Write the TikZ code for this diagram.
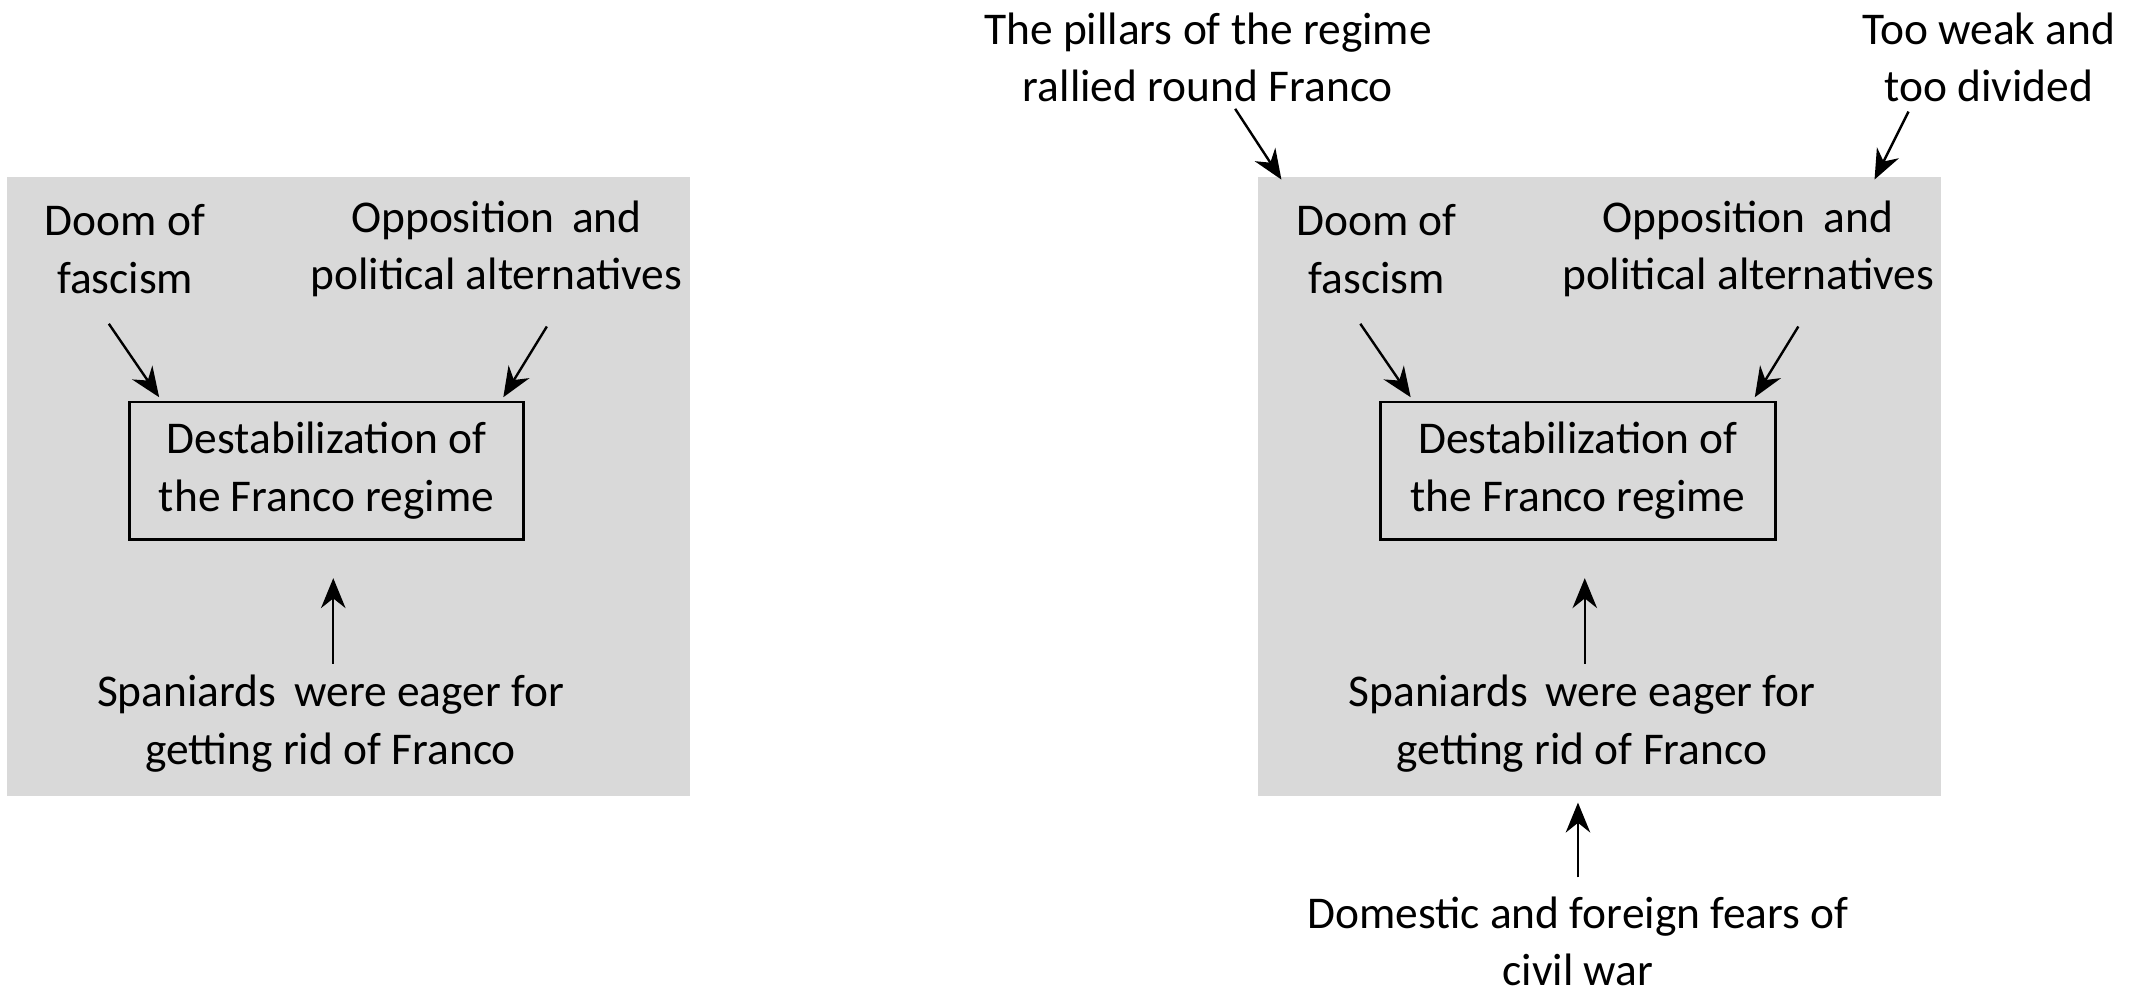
\documentclass[tikz,border=0pt]{standalone}
\usepackage{fontspec}
\setmainfont{Carlito}
\usetikzlibrary{arrows.meta}
\tikzset{
  txt/.style={align=center, inner sep=0pt, font=\fontsize{9.5}{12}\selectfont},
  arr/.style={-{Stealth[length=2.2mm,width=1.8mm]}, line width=0.5pt}
}
\begin{document}
\begin{tikzpicture}[x=0.01cm,y=-0.01cm]
  \useasboundingbox (0,0) rectangle (1568,726);
  % the two panels
  \foreach \p/\dx in {L/0,R/920} {
    \begin{scope}[xshift=\dx*0.01cm]
      \fill[gray!30] (5,130) rectangle (507,585);
      \node[txt] (doom\p) at (92,183) {Doom of\\fascism};
      \node[txt] (opp\p) at (365,183) {Opposition\, and\\political alternatives};
      \node[txt, draw, line width=0.6pt, minimum width=2.9cm, minimum height=1.01cm] (destab\p) at (240,346) {Destabilization of\\the Franco regime};
      \node[txt] (span\p) at (243,532) {Spaniards\, were eager for\\getting rid of Franco};
      \coordinate (a\p) at (80,238);  \coordinate (b\p) at (117,292);
      \coordinate (c\p) at (402,240); \coordinate (d\p) at (370,292);
      \coordinate (e\p) at (245,488); \coordinate (f\p) at (245,425);
      \draw[arr] (a\p) -- (b\p);
      \draw[arr] (c\p) -- (d\p);
      \draw[arr] (e\p) -- (f\p);
    \end{scope}
  }
  % extra factors on the right
  \node[txt] (pillars) at (888,42) {The pillars of the regime\\rallied round Franco};
  \node[txt] (weak) at (1462,42) {Too weak and\\too divided};
  \node[txt] (fears) at (1160,692) {Domestic and foreign fears of\\civil war};
  \coordinate (p1) at (908,80);   \coordinate (p2) at (942,132);
  \coordinate (w1) at (1403,82);  \coordinate (w2) at (1378,132);
  \coordinate (f1) at (1160,645); \coordinate (f2) at (1160,590);
  \draw[arr] (p1) -- (p2);
  \draw[arr] (w1) -- (w2);
  \draw[arr] (f1) -- (f2);
\end{tikzpicture}
\end{document}
